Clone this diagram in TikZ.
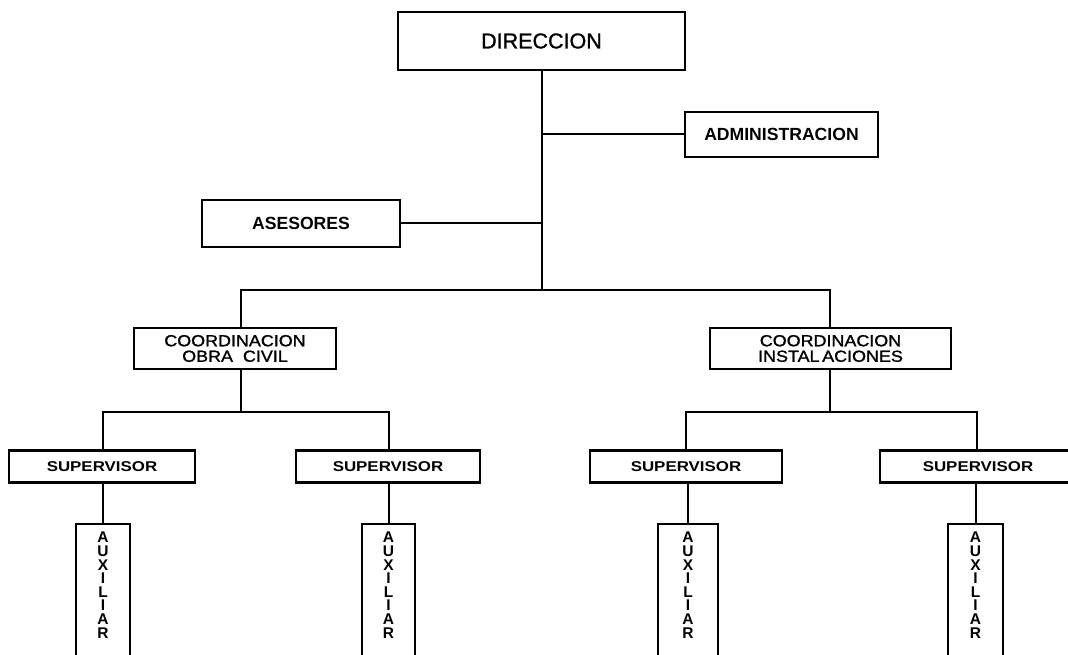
\documentclass[tikz,border=0pt]{standalone}
\usepackage{fontspec}
\setmainfont{Liberation Sans}
\newfontfamily\widefont[FakeStretch=1.19]{Liberation Sans}
\newfontfamily\coordfam[FakeStretch=1.12,FakeBold=1.3]{Liberation Sans}
\newfontfamily\medfam[FakeBold=1.2]{Liberation Sans}
\begin{document}
\begin{tikzpicture}[x=1pt,y=-1pt,line width=2pt,
  box/.style={draw,rectangle,inner sep=0pt,align=center,line width=2.4pt},
  bigfont/.style={font=\medfam\fontsize{21.5}{24}\selectfont},
  midfont/.style={font=\bfseries\fontsize{17.6}{20}\selectfont},
  coordfont/.style={font=\coordfam\fontsize{16}{15.5}\selectfont},
  supfont/.style={font=\widefont\bfseries\fontsize{14.2}{18}\selectfont},
  supbox/.style={box,supfont,minimum height=32pt},
  auxbox/.style={draw,rectangle,line width=2.4pt,inner xsep=0pt,inner ysep=8pt,anchor=north,align=center,
     font=\bfseries\fontsize{15.5}{13.6}\selectfont}]
\useasboundingbox (0,0) rectangle (1068,655);
\clip (0,0) rectangle (1068,655);
% boxes
\node[box,bigfont,minimum width=287pt,minimum height=58pt] (dir) at (541.5,41) {DIRECCION};
\node[box,midfont,minimum width=193pt,minimum height=45pt] (adm) at (781.5,134.5) {ADMINISTRACION};
\node[box,midfont,minimum width=198pt,minimum height=47pt] (ase) at (301,223.5) {ASESORES};
\node[box,coordfont,minimum width=202pt,minimum height=41pt] (coc) at (235,348.5) {COORDINACION\\OBRA\ \ CIVIL};
\node[box,coordfont,minimum width=241pt,minimum height=41pt] (coi) at (830.5,348.5) {COORDINACION\\INSTAL\,ACIONES};
\node[supbox,minimum width=186pt] (sup1) at (102,466.5) {SUPERVISOR};
\node[supbox,minimum width=184pt] (sup2) at (388,466.5) {SUPERVISOR};
\node[supbox,minimum width=192pt] (sup3) at (686,466.5) {SUPERVISOR};
\node[supbox,minimum width=196pt] (sup4) at (978,466.5) {SUPERVISOR};
\node[auxbox,minimum width=54pt] (aux1) at (103,523) {A\\U\\X\\I\\L\\I\\A\\R\\[40pt]\mbox{}};
\node[auxbox,minimum width=53pt] (aux2) at (388.5,523) {A\\U\\X\\I\\L\\I\\A\\R\\[40pt]\mbox{}};
\node[auxbox,minimum width=60pt] (aux3) at (688,523) {A\\U\\X\\I\\L\\I\\A\\R\\[40pt]\mbox{}};
\node[auxbox,minimum width=55pt] (aux4) at (975.5,523) {A\\U\\X\\I\\L\\I\\A\\R\\[40pt]\mbox{}};
% junctions
\coordinate (bar) at (541.5,290);
\coordinate (barL) at (241,290);
\coordinate (barR) at (830,290);
\coordinate (jL) at (241,412);
\coordinate (jR) at (830,412);
\coordinate (s1) at (103,412);
\coordinate (s2) at (389,412);
\coordinate (s3) at (686,412);
\coordinate (s4) at (977,412);
% connectors
\draw (dir.south) -- (bar);
\draw (dir.south |- adm.west) -- (adm.west);
\draw (ase.east) -- (ase.east -| dir.south);
\draw (barL |- coc.north) -- (barL) -- (barR) -- (barR |- coi.north);
\draw (jL |- coc.south) -- (jL);
\draw (jR |- coi.south) -- (jR);
\draw (s1 |- sup1.north) -- (s1) -- (s2) -- (s2 |- sup2.north);
\draw (s3 |- sup3.north) -- (s3) -- (s4) -- (s4 |- sup4.north);
\draw (aux1.north |- sup1.south) -- (aux1.north);
\draw (aux2.north |- sup2.south) -- (aux2.north);
\draw (aux3.north |- sup3.south) -- (aux3.north);
\draw (aux4.north |- sup4.south) -- (aux4.north);
\end{tikzpicture}
\end{document}
